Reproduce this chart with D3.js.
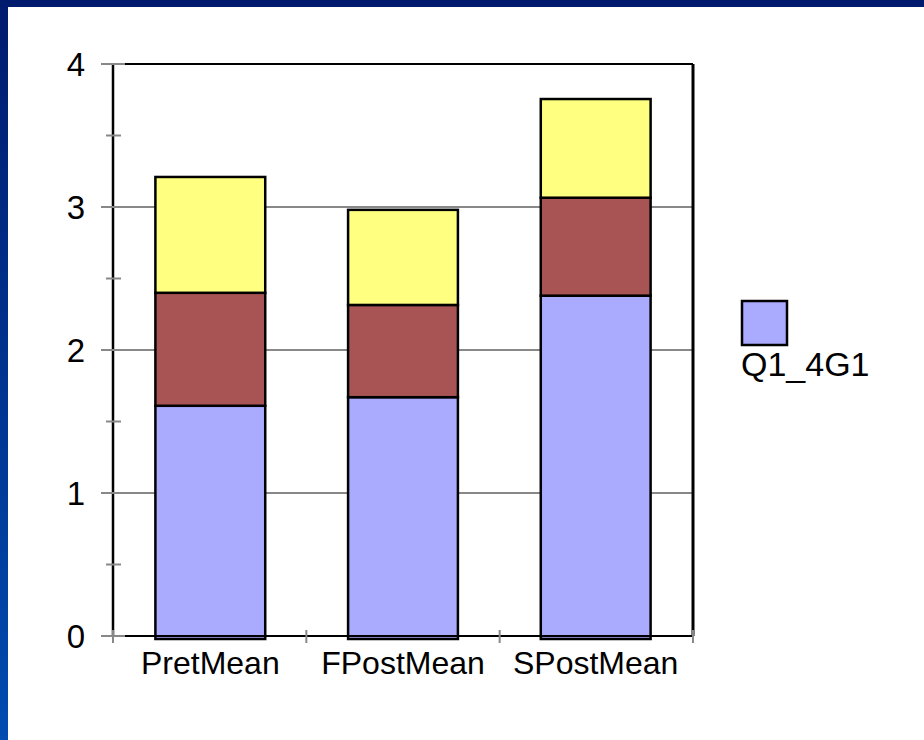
<!DOCTYPE html>
<html><head><meta charset="utf-8">
<script src="https://cdn.jsdelivr.net/npm/d3@7"></script>
<style>html,body{margin:0;padding:0;background:#fff;}svg{display:block;}</style>
</head><body>
<script>
const categories = ["PretMean", "FPostMean", "SPostMean"];
const seriesNames = ["Q1_4G1", "S2", "S3"];
const series1 = [1.61, 1.67, 2.38];
const series2 = [0.79, 0.645, 0.685];
const series3 = [0.81, 0.665, 0.69];
const yTicks = [0, 1, 2, 3, 4];
const colors = ["#aaaaff", "#a85454", "#ffff80"];

(function () {
const W = 924, H = 740;
const FONT = "Liberation Sans, Arial, sans-serif";
const svg = d3.select("body").append("svg").attr("width", W).attr("height", H);
const defs = svg.append("defs");
const g1 = defs.append("linearGradient").attr("id", "lg").attr("x1", 0).attr("y1", 0).attr("x2", 0).attr("y2", 1);
g1.append("stop").attr("offset", "0").attr("stop-color", "#001a6e");
g1.append("stop").attr("offset", "1").attr("stop-color", "#004cb0");
svg.append("rect").attr("x", 0).attr("y", 0).attr("width", W).attr("height", H).attr("fill", "#fff");
svg.append("rect").attr("x", 0).attr("y", 0).attr("width", 8).attr("height", H).attr("fill", "url(#lg)");
svg.append("rect").attr("x", 0).attr("y", 0).attr("width", W).attr("height", 7).attr("fill", "#001a6e");

const pL = 113, pR = 693, pT = 64, pB = 636;
const x = d3.scaleBand().domain(categories).range([pL, pR]).paddingInner(0.43).paddingOuter(0.22);
const y = d3.scaleLinear().domain([0, 4]).range([pB, pT]);

const data = categories.map((c, i) => ({cat: c, v: [series1[i], series2[i], series3[i]]}));
const stack = d3.stack().keys([0, 1, 2]).value((d, k) => d.v[k]);
const stacked = stack(data);

// gridlines
svg.append("g").selectAll("line").data(yTicks.filter(t => t > 0)).join("line")
  .attr("x1", pL).attr("x2", pR).attr("y1", d => y(d)).attr("y2", d => y(d))
  .attr("stroke", "#888").attr("stroke-width", 2);

// plot border (top & right)
svg.append("line").attr("x1", pL + 12).attr("x2", pR).attr("y1", pT).attr("y2", pT).attr("stroke", "#000").attr("stroke-width", 2);
svg.append("line").attr("x1", pR).attr("x2", pR).attr("y1", pT).attr("y2", pB).attr("stroke", "#000").attr("stroke-width", 3);

// bars
stacked.forEach((s, k) => {
  svg.append("g").selectAll("rect").data(s).join("rect")
    .attr("x", d => x(d.data.cat))
    .attr("width", x.bandwidth())
    .attr("y", d => y(d[1]))
    .attr("height", d => y(d[0]) - y(d[1]) + (k === 0 ? 3 : 0))
    .attr("fill", colors[k]).attr("stroke", "#000").attr("stroke-width", 2.5);
});

// axes
svg.append("line").attr("x1", pL).attr("x2", pR).attr("y1", pB).attr("y2", pB).attr("stroke", "#000").attr("stroke-width", 2);
svg.append("line").attr("x1", pL).attr("x2", pL).attr("y1", pT).attr("y2", pB).attr("stroke", "#000").attr("stroke-width", 2.5);

// y ticks major + minor
const minor = d3.range(0.5, 4, 1);
svg.append("g").selectAll("line").data(yTicks).join("line")
  .attr("x1", pL - 12).attr("x2", pL + 12).attr("y1", d => y(d)).attr("y2", d => y(d))
  .attr("stroke", "#888").attr("stroke-width", 2);
svg.append("g").selectAll("line").data(minor).join("line")
  .attr("x1", pL - 7).attr("x2", pL + 8).attr("y1", d => y(d)).attr("y2", d => y(d))
  .attr("stroke", "#888").attr("stroke-width", 2);
svg.append("g").selectAll("text").data(yTicks).join("text")
  .attr("x", pL - 28).attr("y", d => y(d) + 12)
  .attr("text-anchor", "end").attr("font-family", FONT).attr("font-size", 33)
  .attr("fill", "#000").text(d => d);

// x ticks
const xTickPos = d3.range(0, categories.length + 1).map(i => pL + i * (pR - pL) / categories.length);
svg.append("g").selectAll("line").data(xTickPos).join("line")
  .attr("x1", d => d).attr("x2", d => d).attr("y1", pB - 6).attr("y2", pB + 7)
  .attr("stroke", "#888").attr("stroke-width", 2);
svg.append("g").selectAll("text").data(categories).join("text")
  .attr("x", d => x(d) + x.bandwidth() / 2).attr("y", 674)
  .attr("text-anchor", "middle").attr("font-family", FONT).attr("font-size", 32)
  .attr("fill", "#000").text(d => d);

// legend
svg.append("rect").attr("x", 742).attr("y", 301).attr("width", 45).attr("height", 44)
  .attr("fill", colors[0]).attr("stroke", "#000").attr("stroke-width", 2.5);
svg.append("text").attr("x", 741).attr("y", 376).attr("font-family", FONT)
  .attr("font-size", 34).attr("fill", "#000").text(seriesNames[0]);
})();
</script>
</body></html>
